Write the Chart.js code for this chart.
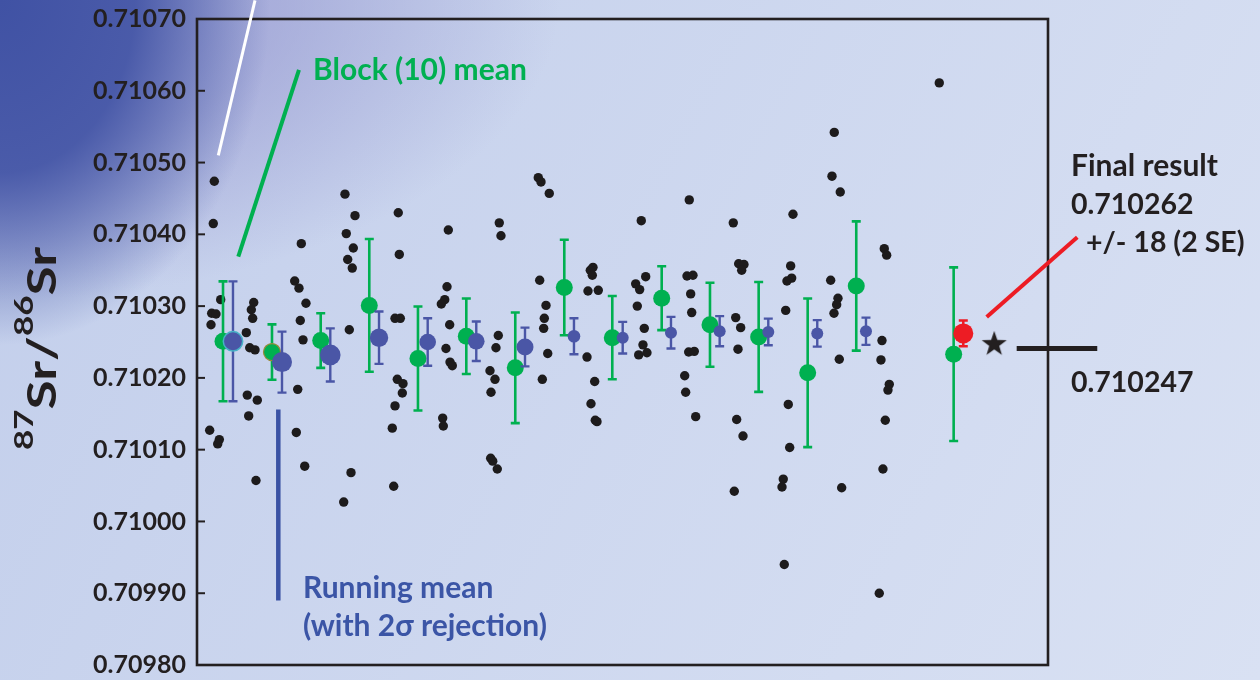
<!DOCTYPE html>
<html>
<head>
<meta charset="utf-8">
<title>87Sr/86Sr measurement run</title>
<script src="https://cdn.jsdelivr.net/npm/chart.js@4.4.1/dist/chart.umd.min.js"></script>
<style>
  html, body { margin: 0; padding: 0; background: #ccd7ef; }
  canvas { display: block; }
</style>
</head>
<body>
<canvas id="chart" width="1260" height="680"></canvas>
<script>
// ---- Individual cycle ratios (x = cycle position, y = 87Sr/86Sr) ----
const dotCycle = [
  3.56, 3.35, 4.87, 3.02, 3.91, 2.88, 2.61, 4.59, 4.26,
  11.66, 11.17, 11.45, 10.14, 10.84, 11.93, 10.34, 12.40, 10.63, 12.13,
  21.45, 20.09, 20.97, 22.41, 21.24, 21.80, 20.71, 20.42, 22.15,
  30.43, 32.49, 30.70, 32.14, 30.99, 31.93, 31.32, 31.67, 30.17,
  41.39, 41.60, 40.72, 41.81, 41.19, 42.36, 42.22, 40.72, 40.16, 40.45,
  51.68, 51.41, 50.94, 50.24, 51.96, 51.20, 52.03, 52.50, 50.52, 50.65,
  62.16, 62.51, 61.96, 61.48, 60.25, 61.28, 60.46, 60.39, 60.81, 61.75,
  70.18, 70.74, 72.44, 70.47, 71.77, 71.42, 71.29, 72.12, 71.01,
  81.43, 80.88, 81.29, 80.40, 82.52, 80.20, 81.78, 81.02, 81.90, 82.25,
  91.36, 92.27, 90.21, 91.03, 90.54, 91.98, 91.71, 90.83, 92.53,
  101.23, 100.76, 101.99, 101.52, 101.73, 101.11, 102.26, 100.29, 100.49, 102.55,
  110.28, 111.39, 112.48, 112.01, 110.78, 111.80, 111.25, 110.98, 112.28, 110.49,
  120.56, 122.56, 122.08, 122.29, 121.32, 121.06, 121.59, 121.88, 120.30, 120.77,
  131.05, 130.58, 132.28, 130.31, 131.81, 131.54, 130.99, 132.08, 132.57,
  141.33, 141.82, 140.86, 140.65, 142.36, 142.09, 141.54, 141.06, 140.30,
  152.64
];
const dotRatio = [
  0.710474, 0.710415, 0.710309, 0.710290, 0.710289, 0.710274, 0.710127, 0.710114, 0.710108,
  0.710305, 0.710295, 0.710283, 0.710263, 0.710242, 0.710239, 0.710176, 0.710169, 0.710147, 0.710057,
  0.710387, 0.710335, 0.710325, 0.710304, 0.710280, 0.710253, 0.710184, 0.710124, 0.710077,
  0.710456, 0.710426, 0.710401, 0.710381, 0.710365, 0.710353, 0.710267, 0.710068, 0.710027,
  0.710430, 0.710372, 0.710283, 0.710283, 0.710198, 0.710192, 0.710179, 0.710161, 0.710130, 0.710049,
  0.710406, 0.710327, 0.710309, 0.710303, 0.710274, 0.710241, 0.710222, 0.710217, 0.710144, 0.710133,
  0.710416, 0.710398, 0.710259, 0.710242, 0.710210, 0.710198, 0.710180, 0.710088, 0.710084, 0.710073,
  0.710479, 0.710473, 0.710457, 0.710336, 0.710301, 0.710283, 0.710269, 0.710234, 0.710198,
  0.710354, 0.710350, 0.710343, 0.710321, 0.710322, 0.710229, 0.710195, 0.710164, 0.710141, 0.710139,
  0.710419, 0.710341, 0.710331, 0.710323, 0.710300, 0.710269, 0.710246, 0.710232, 0.710235,
  0.710448, 0.710342, 0.710343, 0.710317, 0.710291, 0.710236, 0.710237, 0.710203, 0.710180, 0.710146,
  0.710416, 0.710359, 0.710358, 0.710350, 0.710284, 0.710270, 0.710240, 0.710142, 0.710119, 0.710042,
  0.710059, 0.710428, 0.710356, 0.710339, 0.710335, 0.710294, 0.710163, 0.710103, 0.710048, 0.709940,
  0.710542, 0.710481, 0.710459, 0.710336, 0.710311, 0.710302, 0.710290, 0.710226, 0.710047,
  0.710380, 0.710371, 0.710252, 0.710225, 0.710191, 0.710183, 0.710141, 0.710073, 0.709900,
  0.710611
];

// ---- Block (10) means with 2 SE ----
const blockCycle = [5.35, 15.42, 25.44, 35.43, 45.44, 55.38, 65.45, 75.53, 85.40, 95.56, 105.49, 115.50, 125.58, 135.57, 155.60];
const blockMean  = [0.710251, 0.710236, 0.710252, 0.710301, 0.710227, 0.710258, 0.710214, 0.710326, 0.710256, 0.710311, 0.710274, 0.710257, 0.710207, 0.710328, 0.710233];
const block2SE   = [0.0000835, 0.0000385, 0.0000380, 0.0000925, 0.0000725, 0.0000525, 0.0000770, 0.0000665, 0.0000580, 0.0000445, 0.0000585, 0.0000765, 0.0001035, 0.0000900, 0.0001210];

// ---- Running mean (2-sigma rejection) with 2 SE ----
const runCycle = [7.40, 17.48, 27.41, 37.43, 47.44, 57.43, 67.45, 77.52, 87.54, 97.47, 107.48, 117.48, 127.55, 137.57];
const runMean  = [0.710251, 0.710222, 0.710232, 0.710256, 0.710250, 0.710251, 0.710243, 0.710258, 0.710256, 0.710263, 0.710265, 0.710264, 0.710262, 0.710265];
const run2SE   = [0.0000835, 0.0000425, 0.0000370, 0.0000365, 0.0000330, 0.0000275, 0.0000270, 0.0000250, 0.0000220, 0.0000220, 0.0000210, 0.0000185, 0.0000185, 0.0000190];
const runRadius = [9.7, 10, 10.3, 9.2, 8.3, 8.3, 8.5, 6.3, 6, 6, 6, 6, 6, 6];

// ---- Final result and reference value ----
const finalCycle = [157.58];
const finalRatio = [0.710262];
const final2SE   = [0.000018];
const refCycle = [163.94];
const refRatio = [0.710247];

// ---- Axis ----
const yTicks = [0.70980, 0.70990, 0.71000, 0.71010, 0.71020, 0.71030, 0.71040, 0.71050, 0.71060, 0.71070];
const xRange = [0, 175];

const FONT = "Lato, 'Open Sans', 'DejaVu Sans', sans-serif";
const INK = '#231f20';
const GREEN = '#00b050';
const BLUE = '#4a56a6';
const RED = '#ed1c24';
const PLOT_LEFT = 197;

const toPoints = (xs, ys) => xs.map((x, i) => ({ x, y: ys[i] }));

// Filled five-point star used as the reference-value marker
function makeStar(size, color) {
  const c = document.createElement('canvas');
  c.width = size; c.height = size;
  const g = c.getContext('2d');
  const cx = size / 2, cy = size / 2, R = size * 0.47, r = R * 0.4;
  g.beginPath();
  for (let i = 0; i < 10; i++) {
    const rad = i % 2 === 0 ? R : r;
    const a = -Math.PI / 2 + i * Math.PI / 5;
    g.lineTo(cx + rad * Math.cos(a), cy + rad * Math.sin(a));
  }
  g.closePath();
  g.fillStyle = color;
  g.fill();
  return c;
}

// Elliptical glow anchored at the top-left corner
function glow(ctx, w, h, rx, ry, rgb, stops) {
  ctx.save();
  ctx.scale(1, ry / rx);
  const g = ctx.createRadialGradient(0, 0, 0, 0, 0, rx);
  stops.forEach(([t, a]) => g.addColorStop(t, `rgba(${rgb},${a})`));
  ctx.fillStyle = g;
  ctx.fillRect(0, 0, w, h * rx / ry);
  ctx.restore();
}

// Page backdrop: light blue field, violet wash along the top, deep blue in the corner
const backdrop = {
  id: 'backdrop',
  beforeDraw(chart) {
    const { ctx, width, height } = chart;
    ctx.save();
    const base = ctx.createLinearGradient(0, 0, width, height);
    base.addColorStop(0, '#c2ceeb');
    base.addColorStop(1, '#d9e1f3');
    ctx.fillStyle = base;
    ctx.fillRect(0, 0, width, height);
    glow(ctx, width, height, 560, 300, '150,152,208', [[0, 0.8], [0.5, 0.6], [1, 0]]);
    glow(ctx, width, height, 270, 345, '64,82,164', [[0, 1], [0.5, 0.9], [1, 0]]);
    ctx.restore();
  }
};

// Vertical 2 SE bars, drawn just beneath the points of their own dataset
const errorBars = {
  id: 'errorBars',
  beforeDatasetDraw(chart, args) {
    const ds = chart.data.datasets[args.index];
    if (!ds.errors) return;
    const { ctx } = chart;
    const xs = chart.scales.x, ys = chart.scales.y;
    ctx.save();
    ctx.strokeStyle = ds.barColor;
    ctx.lineWidth = ds.barWidth;
    ds.data.forEach((p, i) => {
      const x = xs.getPixelForValue(p.x);
      const top = ys.getPixelForValue(p.y + ds.errors[i]);
      const bot = ys.getPixelForValue(p.y - ds.errors[i]);
      const cap = ds.capHalf;
      ctx.beginPath();
      ctx.moveTo(x, top); ctx.lineTo(x, bot);
      ctx.moveTo(x - cap, top); ctx.lineTo(x + cap, top);
      ctx.moveTo(x - cap, bot); ctx.lineTo(x + cap, bot);
      ctx.stroke();
    });
    ctx.restore();
  }
};

// Leader lines (in axis units) and their text
const leaders = [
  { from: [4.38, 0.710510], to: [11.93, 0.710726], color: '#ffffff', width: 3 },
  { from: [20.97, 0.710629], to: [8.49, 0.710369], color: GREEN, width: 4 },
  { from: [16.72, 0.710156], to: [16.72, 0.709890], color: '#3a52a4', width: 4.5 },
  { from: [162.39, 0.710285], to: [181.02, 0.710396], color: RED, width: 4 },
  { from: [168.56, 0.710241], to: [185.13, 0.710241], color: INK, width: 5 }
];
const notes = [
  { text: 'Block (10) mean', x: 313, y: 80, color: GREEN, size: 30 },
  { text: 'Running mean', x: 303, y: 598, color: '#3b55a6', size: 30 },
  { text: '(with 2\u03c3 rejection)', x: 303, y: 636, color: '#3b55a6', size: 30 },
  { text: 'Final result', x: 1071, y: 176, color: INK, size: 30 },
  { text: '0.710262', x: 1071, y: 214, color: INK, size: 28.5 },
  { text: '+/- 18 (2 SE)', x: 1086, y: 252, color: INK, size: 28.5 },
  { text: '0.710247', x: 1071, y: 392, color: INK, size: 28.5 }
];

const overlay = {
  id: 'overlay',
  afterDraw(chart) {
    const { ctx, chartArea: a } = chart;
    const xs = chart.scales.x, ys = chart.scales.y;
    ctx.save();

    // plot frame
    ctx.strokeStyle = INK;
    ctx.lineWidth = 2.6;
    ctx.strokeRect(a.left, a.top, a.right - a.left, a.bottom - a.top);

    // inward tick marks on the ratio axis
    ctx.lineWidth = 2;
    yTicks.forEach(v => {
      const y = ys.getPixelForValue(v);
      ctx.beginPath();
      ctx.moveTo(a.left, y);
      ctx.lineTo(a.left + 8, y);
      ctx.stroke();
    });

    // leader lines
    ctx.lineCap = 'butt';
    leaders.forEach(l => {
      ctx.strokeStyle = l.color;
      ctx.lineWidth = l.width;
      ctx.beginPath();
      ctx.moveTo(xs.getPixelForValue(l.from[0]), ys.getPixelForValue(l.from[1]));
      ctx.lineTo(xs.getPixelForValue(l.to[0]), ys.getPixelForValue(l.to[1]));
      ctx.stroke();
    });

    // annotation text
    ctx.textBaseline = 'alphabetic';
    ctx.textAlign = 'left';
    notes.forEach(n => {
      ctx.fillStyle = n.color;
      ctx.font = `bold ${n.size}px ${FONT}`;
      ctx.fillText(n.text, n.x, n.y);
    });

    // axis title 87Sr/86Sr, rotated
    const parts = [
      { t: '87', sup: true }, { t: 'Sr', sup: false }, { t: '/', sup: false },
      { t: '86', sup: true }, { t: 'Sr', sup: false }
    ];
    const bigFont = `bold 41px ${FONT}`, supFont = `bold 27px ${FONT}`;
    let total = 0;
    parts.forEach(p => { ctx.font = p.sup ? supFont : bigFont; p.w = ctx.measureText(p.t).width; total += p.w; });
    ctx.translate(56, 450);
    ctx.rotate(-Math.PI / 2);
    ctx.scale(203 / total, 1);
    ctx.fillStyle = INK;
    let pos = 0;
    parts.forEach(p => {
      ctx.font = p.sup ? supFont : bigFont;
      ctx.fillText(p.t, pos, p.sup ? -23 : 0);
      pos += p.w;
    });
    ctx.restore();
  }
};

new Chart(document.getElementById('chart'), {
  type: 'scatter',
  data: {
    datasets: [
      {
        label: 'Reference value',
        data: toPoints(refCycle, refRatio),
        pointStyle: makeStar(28, INK),
        pointRadius: 14,
        order: 1
      },
      {
        label: 'Final result',
        data: toPoints(finalCycle, finalRatio),
        errors: final2SE, barColor: RED, barWidth: 2.5, capHalf: 4.5,
        pointRadius: 10, backgroundColor: RED, borderWidth: 0,
        order: 2
      },
      {
        label: 'Running mean (with 2\u03c3 rejection)',
        data: toPoints(runCycle, runMean),
        errors: run2SE, barColor: BLUE, barWidth: 2.4, capHalf: 4.5,
        pointRadius: runRadius, backgroundColor: BLUE,
        borderColor: runCycle.map((_, i) => i === 0 ? '#46b2c6' : BLUE),
        borderWidth: runCycle.map((_, i) => i === 0 ? 1.5 : 0),
        order: 3
      },
      {
        label: 'Block (10) mean',
        data: toPoints(blockCycle, blockMean),
        errors: block2SE, barColor: GREEN, barWidth: 2.6, capHalf: 4.5,
        pointRadius: 8.5, backgroundColor: GREEN,
        borderColor: blockCycle.map((_, i) => i === 1 ? '#9a8a3a' : GREEN),
        borderWidth: blockCycle.map((_, i) => i === 1 ? 1.2 : 0),
        order: 4
      },
      {
        label: 'Cycles',
        data: toPoints(dotCycle, dotRatio),
        pointRadius: 4.7, backgroundColor: '#1d1b1c', borderWidth: 0,
        order: 5
      }
    ]
  },
  options: {
    responsive: false,
    animation: false,
    events: [],
    layout: { padding: { left: 0, right: 212, top: 19, bottom: 14 } },
    plugins: { legend: { display: false }, tooltip: { enabled: false } },
    scales: {
      x: { type: 'linear', min: xRange[0], max: xRange[1], display: false },
      y: {
        type: 'linear',
        min: yTicks[0],
        max: yTicks[yTicks.length - 1],
        afterFit(scale) {
          // fixed label column; the end labels may overhang the plot box
          scale.width = PLOT_LEFT;
          scale.paddingTop = 0;
          scale.paddingBottom = 0;
        },
        afterBuildTicks(scale) { scale.ticks = yTicks.map(v => ({ value: v })); },
        grid: { display: false, drawTicks: false },
        border: { display: false },
        ticks: {
          padding: 11,
          color: INK,
          font: { family: FONT, size: 25, weight: 'bold' },
          callback: v => v.toFixed(5)
        }
      }
    }
  },
  plugins: [backdrop, errorBars, overlay]
});
</script>
</body>
</html>
